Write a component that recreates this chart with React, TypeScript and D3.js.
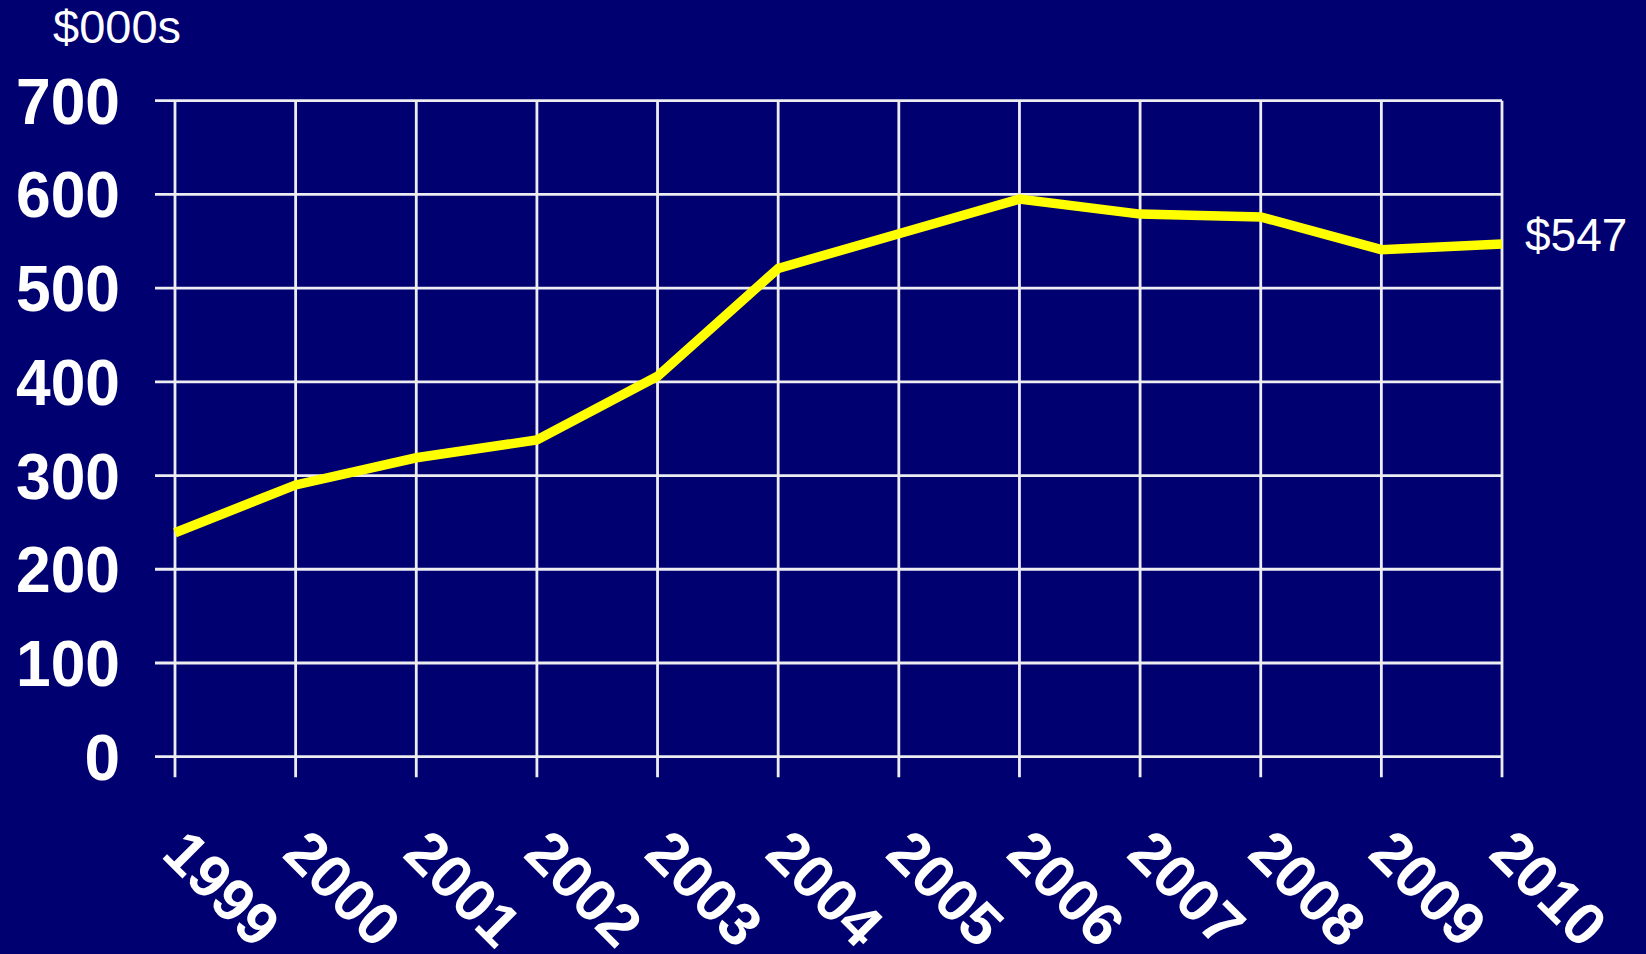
import React from "react";
import * as d3 from "d3";

const years = ["1999","2000","2001","2002","2003","2004","2005","2006","2007","2008","2009","2010"];
const values = [239, 290, 319, 338, 406, 521, 558, 595, 579, 576, 541, 547];
const yTicks = [0, 100, 200, 300, 400, 500, 600, 700];
const unitLabel = "$000s";
const endLabel = "$547";

const W = 1646, H = 954;
const BG = "#000070";
const GRID = "#ececf2";
const FONT = "'Liberation Sans', Arial, sans-serif";

export default function App() {
  const x = d3.scalePoint<string>().domain(years).range([175, 1502]);
  const y = d3.scaleLinear().domain([0, 700]).range([756.7, 100.7]);
  const line = d3.line<number>().x((_, i) => x(years[i])!).y((d) => y(d));
  const x0 = x(years[0])!, x1 = x(years[years.length - 1])!;
  const lastX = x1, lastY = y(values[values.length - 1]);
  return (
    <div style={{ position: "fixed", left: 0, top: 0 }}>
      <svg width={W} height={H} style={{ display: "block" }}>
        <rect x={0} y={0} width={W} height={H} fill={BG} />
        {yTicks.map((t) => (
          <g key={t}>
            <line x1={x0 - 20} x2={x1} y1={y(t)} y2={y(t)} stroke={GRID} strokeWidth={2.8} />
            <text x={120} y={y(t)} dy="0.36em" textAnchor="end" fill="#fff" fontFamily={FONT} fontWeight="bold" fontSize={64} textLength={t === 0 ? undefined : 104} lengthAdjust="spacingAndGlyphs">{t}</text>
          </g>
        ))}
        {years.map((yr) => (
          <g key={yr}>
            <line x1={x(yr)} x2={x(yr)} y1={y(700)} y2={y(0) + 20.5} stroke={GRID} strokeWidth={2.8} />
            <text transform={`translate(${x(yr)! - 15},856) rotate(45)`} fill="#fff" fontFamily={FONT} fontWeight="bold" fontSize={60}>{yr}</text>
          </g>
        ))}
        <path d={line(values)!} fill="none" stroke="#ffff00" strokeWidth={9.5} strokeLinejoin="miter" />
        <text x={53} y={43} fill="#fff" fontFamily={FONT} fontSize={47}>{unitLabel}</text>
        <text x={lastX + 23} y={lastY + 7} fill="#fff" fontFamily={FONT} fontSize={46}>{endLabel}</text>
      </svg>
    </div>
  );
}
